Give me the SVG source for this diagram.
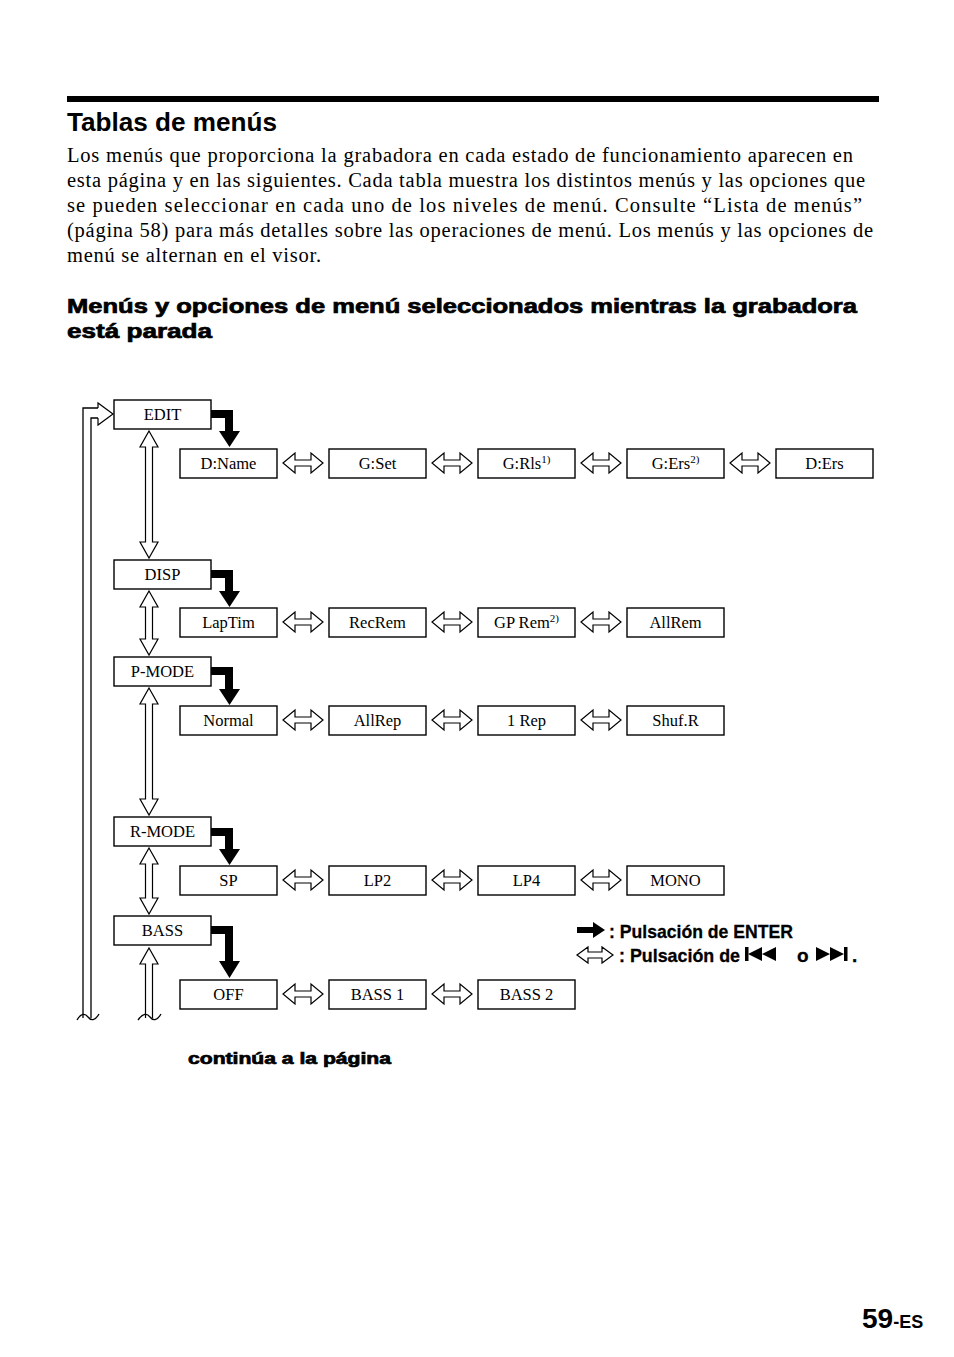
<svg xmlns="http://www.w3.org/2000/svg" width="954" height="1357" viewBox="0 0 954 1357">
<style>
.bx{fill:#fff;stroke:#000;stroke-width:1.4}
.lb{font-family:"Liberation Serif","Times New Roman",serif;font-size:16.5px;text-anchor:middle;fill:#000}
.sup{font-size:11px}
.ha{fill:#fff;stroke:#000;stroke-width:1.2;stroke-linejoin:miter}
.ba{fill:#000;stroke:none}
.ln{fill:none;stroke:#000;stroke-width:1.3}
.body{font-family:"Liberation Serif","Times New Roman",serif;font-size:20.5px;fill:#000}
.hd{font-family:"Liberation Sans",Arial,sans-serif;font-weight:bold;fill:#000}
.hv{stroke:#000;stroke-width:0.7}
.lg{font-family:"Liberation Sans",Arial,sans-serif;font-weight:bold;font-size:19px;fill:#000;stroke:#000;stroke-width:0.3}
</style>
<rect width="954" height="1357" fill="#fff"/>
<rect x="67" y="96" width="812" height="6" fill="#000"/>
<text class="hd" x="67" y="131" font-size="26" textLength="210" lengthAdjust="spacingAndGlyphs">Tablas de menús</text>
<text class="body" x="67" y="162" textLength="786" lengthAdjust="spacing">Los menús que proporciona la grabadora en cada estado de funcionamiento aparecen en</text>
<text class="body" x="67" y="187" textLength="798" lengthAdjust="spacing">esta página y en las siguientes. Cada tabla muestra los distintos menús y las opciones que</text>
<text class="body" x="67" y="212" textLength="795" lengthAdjust="spacing">se pueden seleccionar en cada uno de los niveles de menú. Consulte “Lista de menús”</text>
<text class="body" x="67" y="237" textLength="806" lengthAdjust="spacing">(página 58) para más detalles sobre las operaciones de menú. Los menús y las opciones de</text>
<text class="body" x="67" y="262" textLength="254" lengthAdjust="spacing">menú se alternan en el visor.</text>
<text class="hd hv" x="67" y="313" font-size="20" textLength="790" lengthAdjust="spacingAndGlyphs">Menús y opciones de menú seleccionados mientras la grabadora</text>
<text class="hd hv" x="67" y="338" font-size="20" textLength="145" lengthAdjust="spacingAndGlyphs">está parada</text>

<g id="connectors">
  <path class="ln" d="M83,1018 V408 H98"/>
  <path class="ln" d="M91,1018 V418 H98"/>
  <path class="ha" d="M98,408 V403 L113,414 L98,425 V418"/>
  <path class="ln" d="M77,1020 C81,1013 85,1013 88,1017 C91,1021 95,1021 99,1014"/>
  <path class="ha" d="M149,431 L158,447 H152.5 V542 H158 L149,558 L140,542 H145.5 V447 H140 Z"/>
  <path class="ha" d="M149,591 L158,607 H152.5 V639 H158 L149,655 L140,639 H145.5 V607 H140 Z"/>
  <path class="ha" d="M149,688 L158,704 H152.5 V799 H158 L149,815 L140,799 H145.5 V704 H140 Z"/>
  <path class="ha" d="M149,848 L158,864 H152.5 V898 H158 L149,914 L140,898 H145.5 V864 H140 Z"/>
  <path class="ha" d="M145.5,1018 V964 H140 L149,948 L158,964 H152.5 V1018"/>
  <path class="ln" d="M138,1020 C143,1013 147,1013 150,1017 C153,1021 157,1021 161,1014"/>
  <path class="ba" d="M211,410 H233 V431 H240 L229.5,447 L219,431 H225 V418 H211 Z"/>
  <path class="ba" d="M211,570 H233 V591 H240 L229.5,607 L219,591 H225 V578 H211 Z"/>
  <path class="ba" d="M211,667 H233 V689 H240 L229.5,705 L219,689 H225 V675 H211 Z"/>
  <path class="ba" d="M211,828 H233 V849 H240 L229.5,865 L219,849 H225 V836 H211 Z"/>
  <path class="ba" d="M211,926 H233 V961 H240 L229.5,978 L219,961 H225 V934 H211 Z"/>
  <g id="h-arrows">
    <path class="ha" d="M283,463 L295,453 V460 H311 V453 L323,463 L311,473 V466 H295 V473 Z"/>
    <path class="ha" d="M432,463 L444,453 V460 H460 V453 L472,463 L460,473 V466 H444 V473 Z"/>
    <path class="ha" d="M581,463 L593,453 V460 H609 V453 L621,463 L609,473 V466 H593 V473 Z"/>
    <path class="ha" d="M730,463 L742,453 V460 H758 V453 L770,463 L758,473 V466 H742 V473 Z"/>
    <path class="ha" d="M283,622 L295,612 V619 H311 V612 L323,622 L311,632 V625 H295 V632 Z"/>
    <path class="ha" d="M432,622 L444,612 V619 H460 V612 L472,622 L460,632 V625 H444 V632 Z"/>
    <path class="ha" d="M581,622 L593,612 V619 H609 V612 L621,622 L609,632 V625 H593 V632 Z"/>
    <path class="ha" d="M283,720 L295,710 V717 H311 V710 L323,720 L311,730 V723 H295 V730 Z"/>
    <path class="ha" d="M432,720 L444,710 V717 H460 V710 L472,720 L460,730 V723 H444 V730 Z"/>
    <path class="ha" d="M581,720 L593,710 V717 H609 V710 L621,720 L609,730 V723 H593 V730 Z"/>
    <path class="ha" d="M283,880 L295,870 V877 H311 V870 L323,880 L311,890 V883 H295 V890 Z"/>
    <path class="ha" d="M432,880 L444,870 V877 H460 V870 L472,880 L460,890 V883 H444 V890 Z"/>
    <path class="ha" d="M581,880 L593,870 V877 H609 V870 L621,880 L609,890 V883 H593 V890 Z"/>
    <path class="ha" d="M283,994 L295,984 V991 H311 V984 L323,994 L311,1004 V997 H295 V1004 Z"/>
    <path class="ha" d="M432,994 L444,984 V991 H460 V984 L472,994 L460,1004 V997 H444 V1004 Z"/>
  </g>
</g>

<g id="n-edit"><rect class="bx" x="114" y="400" width="97" height="29"/><text class="lb" x="162.5" y="420">EDIT</text></g>
<g id="n-dname"><rect class="bx" x="180" y="449" width="97" height="29"/><text class="lb" x="228.5" y="469">D:Name</text></g>
<g id="n-gset"><rect class="bx" x="329" y="449" width="97" height="29"/><text class="lb" x="377.5" y="469">G:Set</text></g>
<g id="n-grls"><rect class="bx" x="478" y="449" width="97" height="29"/><text class="lb" x="526.5" y="469">G:Rls<tspan class="sup" dy="-6">1)</tspan></text></g>
<g id="n-gers"><rect class="bx" x="627" y="449" width="97" height="29"/><text class="lb" x="675.5" y="469">G:Ers<tspan class="sup" dy="-6">2)</tspan></text></g>
<g id="n-ders"><rect class="bx" x="776" y="449" width="97" height="29"/><text class="lb" x="824.5" y="469">D:Ers</text></g>

<g id="n-disp"><rect class="bx" x="114" y="560" width="97" height="29"/><text class="lb" x="162.5" y="580">DISP</text></g>
<g id="n-laptim"><rect class="bx" x="180" y="608" width="97" height="29"/><text class="lb" x="228.5" y="628">LapTim</text></g>
<g id="n-recrem"><rect class="bx" x="329" y="608" width="97" height="29"/><text class="lb" x="377.5" y="628">RecRem</text></g>
<g id="n-gprem"><rect class="bx" x="478" y="608" width="97" height="29"/><text class="lb" x="526.5" y="628">GP Rem<tspan class="sup" dy="-6">2)</tspan></text></g>
<g id="n-allrem"><rect class="bx" x="627" y="608" width="97" height="29"/><text class="lb" x="675.5" y="628">AllRem</text></g>

<g id="n-pmode"><rect class="bx" x="114" y="657" width="97" height="29"/><text class="lb" x="162.5" y="677">P-MODE</text></g>
<g id="n-normal"><rect class="bx" x="180" y="706" width="97" height="29"/><text class="lb" x="228.5" y="726">Normal</text></g>
<g id="n-allrep"><rect class="bx" x="329" y="706" width="97" height="29"/><text class="lb" x="377.5" y="726">AllRep</text></g>
<g id="n-1rep"><rect class="bx" x="478" y="706" width="97" height="29"/><text class="lb" x="526.5" y="726">1 Rep</text></g>
<g id="n-shufr"><rect class="bx" x="627" y="706" width="97" height="29"/><text class="lb" x="675.5" y="726">Shuf.R</text></g>

<g id="n-rmode"><rect class="bx" x="114" y="817" width="97" height="29"/><text class="lb" x="162.5" y="837">R-MODE</text></g>
<g id="n-sp"><rect class="bx" x="180" y="866" width="97" height="29"/><text class="lb" x="228.5" y="886">SP</text></g>
<g id="n-lp2"><rect class="bx" x="329" y="866" width="97" height="29"/><text class="lb" x="377.5" y="886">LP2</text></g>
<g id="n-lp4"><rect class="bx" x="478" y="866" width="97" height="29"/><text class="lb" x="526.5" y="886">LP4</text></g>
<g id="n-mono"><rect class="bx" x="627" y="866" width="97" height="29"/><text class="lb" x="675.5" y="886">MONO</text></g>

<g id="n-bass"><rect class="bx" x="114" y="916" width="97" height="29"/><text class="lb" x="162.5" y="936">BASS</text></g>
<g id="n-off"><rect class="bx" x="180" y="980" width="97" height="29"/><text class="lb" x="228.5" y="1000">OFF</text></g>
<g id="n-bass1"><rect class="bx" x="329" y="980" width="97" height="29"/><text class="lb" x="377.5" y="1000">BASS 1</text></g>
<g id="n-bass2"><rect class="bx" x="478" y="980" width="97" height="29"/><text class="lb" x="526.5" y="1000">BASS 2</text></g>

<g id="legend">
  <path class="ba" d="M577,927 H593 V922 L605,930 L593,938 V933 H577 Z"/>
  <text class="lg" x="609" y="938" textLength="184" lengthAdjust="spacingAndGlyphs">: Pulsación de ENTER</text>
  <path class="ha" d="M577,955 L588,947 V952 H602 V947 L613,955 L602,963 V958 H588 V963 Z"/>
  <text class="lg" x="619" y="962" textLength="121" lengthAdjust="spacingAndGlyphs">: Pulsación de</text>
  <rect x="745" y="947" width="3.5" height="14" fill="#000"/>
  <path class="ba" d="M748,954 L762,947 V961 Z M762,954 L776,947 V961 Z"/>
  <text class="lg" x="797" y="962">o</text>
  <path class="ba" d="M816,947 L830,954 L816,961 Z M830,947 L844,954 L830,961 Z"/>
  <rect x="844" y="947" width="3.5" height="14" fill="#000"/>
  <text class="lg" x="852" y="962">.</text>
</g>

<text class="hd hv" x="188" y="1064" font-size="16" textLength="203" lengthAdjust="spacingAndGlyphs">continúa a la página</text>
<text class="hd" x="862" y="1328" font-size="28">59<tspan font-size="18">-ES</tspan></text>
</svg>
